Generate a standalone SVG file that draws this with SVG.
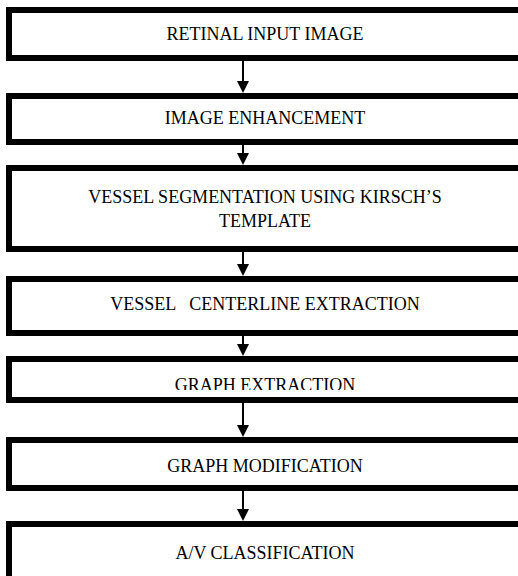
<svg xmlns="http://www.w3.org/2000/svg" width="518" height="576" viewBox="0 0 518 576">
<style>
.box{fill:#fff;stroke:#000;stroke-width:6}
.t{font-family:"Liberation Serif","Times New Roman",serif;font-size:18px;fill:#000;text-anchor:middle;white-space:pre}
.c{stroke:#000;stroke-width:2;fill:none}
.h{fill:#000}
</style>
<defs>
<clipPath id="clip5"><rect x="0" y="362" width="518" height="28"/></clipPath>
</defs>
<rect width="518" height="576" fill="#fff"/>
<g id="n1"><rect class="box" x="9" y="10" width="520" height="48"/><text class="t" x="265" y="40">RETINAL INPUT IMAGE</text></g>
<g id="n2"><rect class="box" x="9" y="96" width="520" height="46"/><text class="t" x="265" y="124">IMAGE ENHANCEMENT</text></g>
<g id="n3"><rect class="box" x="9" y="168" width="520" height="81"/><text class="t" x="265" y="203">VESSEL SEGMENTATION USING KIRSCH’S</text><text class="t" x="265" y="227">TEMPLATE</text></g>
<g id="n4"><rect class="box" x="9" y="279" width="520" height="54"/><text class="t" x="265" y="310" xml:space="preserve">VESSEL   CENTERLINE EXTRACTION</text></g>
<g id="n5"><rect class="box" x="9" y="359" width="520" height="41"/><text class="t" x="265" y="391" clip-path="url(#clip5)">GRAPH EXTRACTION</text></g>
<g id="n6"><rect class="box" x="9" y="440" width="520" height="48"/><text class="t" x="265" y="472">GRAPH MODIFICATION</text></g>
<g id="n7"><rect class="box" x="9" y="524" width="520" height="60"/><text class="t" x="265" y="559">A/V CLASSIFICATION</text></g>
<g id="connectors">
<line class="c" x1="243" y1="61" x2="243" y2="82"/><path class="h" d="M237,81 L249,81 L243,93 Z"/>
<line class="c" x1="243" y1="145" x2="243" y2="154"/><path class="h" d="M237,153 L249,153 L243,165 Z"/>
<line class="c" x1="243" y1="252" x2="243" y2="265"/><path class="h" d="M237,264 L249,264 L243,276 Z"/>
<line class="c" x1="243" y1="336" x2="243" y2="345"/><path class="h" d="M237,344 L249,344 L243,356 Z"/>
<line class="c" x1="243" y1="403" x2="243" y2="426"/><path class="h" d="M237,425 L249,425 L243,437 Z"/>
<line class="c" x1="243" y1="491" x2="243" y2="510"/><path class="h" d="M237,509 L249,509 L243,521 Z"/>
</g>
</svg>
